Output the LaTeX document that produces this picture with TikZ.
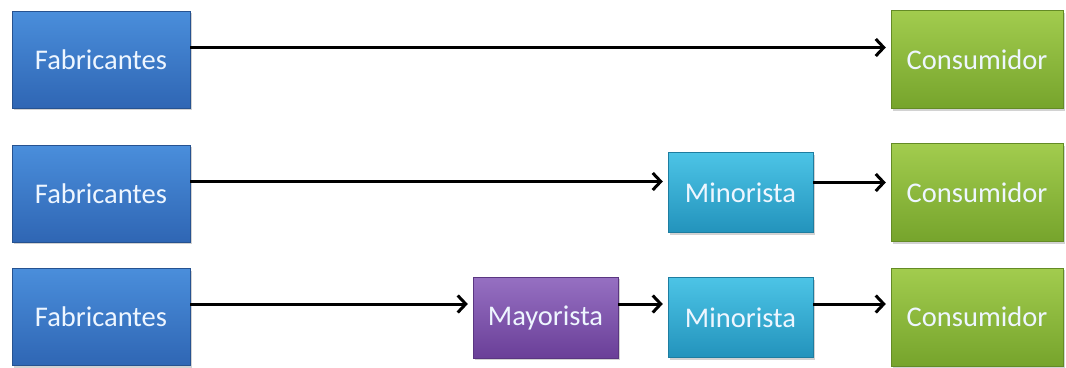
\documentclass[tikz,border=0pt]{standalone}
\usepackage{fontspec}
\setmainfont{Carlito}
\usetikzlibrary{arrows.meta,shadows}
\definecolor{fabtop}{HTML}{4A8EDB}
\definecolor{fabbot}{HTML}{2F66B4}
\definecolor{contop}{HTML}{A2CC4E}
\definecolor{conbot}{HTML}{76A42C}
\definecolor{mintop}{HTML}{4CC4E6}
\definecolor{minbot}{HTML}{2393BC}
\definecolor{maytop}{HTML}{9670C2}
\definecolor{maybot}{HTML}{6A3F98}
\definecolor{txt}{HTML}{EEF6FF}
\tikzset{
  boxbase/.style={rectangle, inner sep=0pt, font=\fontsize{28.5}{30}\selectfont, text=txt,
    drop shadow={shadow xshift=1.5pt, shadow yshift=-2pt, opacity=0.35}},
  fab/.style={boxbase, minimum width=178pt, minimum height=97pt, top color=fabtop, bottom color=fabbot, draw=fabbot!80!black, line width=0.4pt},
  con/.style={boxbase, minimum width=172pt, minimum height=98pt, top color=contop, bottom color=conbot, draw=conbot!85!black, line width=0.4pt},
  mino/.style={boxbase, minimum width=145pt, minimum height=80pt, top color=mintop, bottom color=minbot, draw=minbot!85!black, line width=0.4pt},
  mayo/.style={boxbase, minimum width=145pt, minimum height=81pt, top color=maytop, bottom color=maybot, draw=maybot!85!black, line width=0.4pt},
  flow/.style={line width=3pt, black, -{Straight Barb[length=8pt,width=17pt,line width=3pt]}, shorten >=5pt}
}
\begin{document}
\begin{tikzpicture}[x=1pt,y=-1pt]
\useasboundingbox[fill=white] (0,0) rectangle (1066,367);
% row 1
\node[fab] (f1) at (101,59.5) {Fabricantes};
\node[con] (c1) at (977,59.5) {Consumidor};
% row 2
\node[fab] (f2) at (101,193.5) {Fabricantes};
\node[mino] (m2) at (740.5,192.5) {Minorista};
\node[con] (c2) at (977,192.5) {Consumidor};
% row 3
\node[fab] (f3) at (101,317) {Fabricantes};
\node[mayo] (y3) at (545.5,317.5) {Mayorista};
\node[mino] (m3) at (740.5,317.5) {Minorista};
\node[con] (c3) at (977,317) {Consumidor};
% arrows
\draw[flow] ([yshift=12pt]f1.east) -- ([yshift=12pt]c1.west);
\draw[flow] ([yshift=12pt]f2.east) -- ([yshift=11pt]m2.west);
\draw[flow] ([yshift=10pt]m2.east) -- ([yshift=10pt]m2.east -| c2.west);
\draw[flow] ([yshift=13pt]f3.east) -- ([yshift=13.5pt]y3.west);
\draw[flow] ([yshift=13.5pt]y3.east) -- ([yshift=13.5pt]m3.west);
\draw[flow] ([yshift=13.5pt]m3.east) -- ([yshift=13.5pt]m3.east -| c3.west);
\end{tikzpicture}
\end{document}
